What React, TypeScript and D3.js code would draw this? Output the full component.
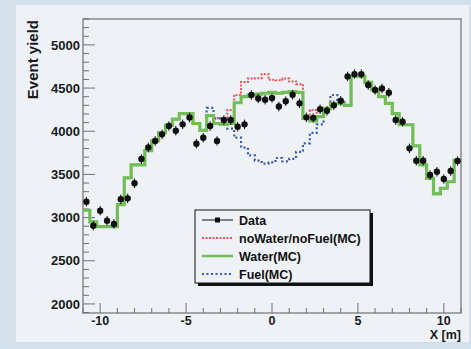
import React, { useEffect, useRef } from 'react';
import * as d3 from 'd3';

// 55 bins of 0.4 m from -11 m to 11 m
const binEdges = d3.range(0, 56).map(i => -11 + i * 0.4);

const dataValues = [
  3184, 2906, 3080, 2964, 2926, 3212, 3223, 3397, 3678, 3813,
  3887, 3964, 4060, 4006, 4080, 4160, 3856, 3924, 4060, 3888,
  4130, 4130, 4052, 4080, 4419, 4380, 4365, 4385, 4286, 4348,
  4423, 4323, 4161, 4155, 4255, 4237, 4300, 4353, 4635, 4662,
  4662, 4535, 4477, 4496, 4446, 4130, 4110, 3802, 3659, 3659,
  3493, 3531, 3447, 3539, 3655,
];
const dataError = 55;

const waterMC = [
  3085, 2950, 2895, 2895, 2895, 3150, 3460, 3610, 3610, 3775,
  3890, 3985, 4070, 4140, 4205, 4205, 4090, 4010, 4180, 4090,
  4080, 4090, 4330, 4400, 4420, 4430, 4440, 4450, 4440, 4450,
  4460, 4450, 4150, 4120, 4170, 4265, 4320, 4320, 4300, 4635,
  4635, 4565, 4480, 4400, 4323, 4205, 4075, 4075, 3830, 3610,
  3455, 3275, 3340, 3415, 3665,
];

const noWaterMC = [
  3085, 2950, 2895, 2895, 2895, 3150, 3460, 3610, 3610, 3775,
  3890, 3985, 4070, 4140, 4205, 4205, 4090, 4010, 4180, 4150,
  4150, 4245, 4420, 4570, 4610, 4615, 4660, 4595, 4590, 4610,
  4575, 4545, 4160, 4245, 4170, 4265, 4320, 4320, 4300, 4635,
  4635, 4565, 4480, 4400, 4323, 4205, 4075, 4075, 3830, 3610,
  3455, 3275, 3340, 3415, 3665,
];

const fuelMC = [
  3085, 2950, 2895, 2895, 2895, 3150, 3460, 3610, 3610, 3775,
  3890, 3985, 4070, 4140, 4205, 4205, 4090, 4010, 4270, 4150,
  4140, 4030, 3925, 3810, 3720, 3660, 3625, 3640, 3690, 3650,
  3680, 3760, 3860, 3980, 4080, 4265, 4420, 4340, 4300, 4635,
  4635, 4565, 4480, 4400, 4323, 4205, 4075, 4075, 3830, 3610,
  3455, 3275, 3340, 3415, 3665,
];

const xTicks = [-10, -5, 0, 5, 10];
const yTicks = [2000, 2500, 3000, 3500, 4000, 4500, 5000];

const legendItems = ['Data', 'noWater/noFuel(MC)', 'Water(MC)', 'Fuel(MC)'];

const W = 471;
const H = 349;
const FONT = '"Liberation Sans", Arial, Helvetica, sans-serif';

export default function App() {
  const ref = useRef<SVGSVGElement>(null);

  useEffect(() => {
    const svg = d3.select(ref.current);
    svg.selectAll('*').remove();

    const left = 83, right = 461, top = 19, bottom = 313;

    // backgrounds
    svg.append('rect').attr('width', W).attr('height', H).attr('fill', '#d4e0e9');
    svg.append('rect').attr('x', 16).attr('y', 5).attr('width', 453).attr('height', 337).attr('fill', '#eef2f6');

    const x = d3.scaleLinear().domain([-11, 11]).range([left, right]);
    const y = d3.scaleLinear().domain([1895, 5300]).range([bottom, top]);

    // frame
    svg.append('rect')
      .attr('x', left).attr('y', top)
      .attr('width', right - left).attr('height', bottom - top)
      .attr('fill', 'none').attr('stroke', '#707070').attr('stroke-width', 1.2);

    // y ticks
    const yMinor = d3.range(1900, 5301, 100);
    svg.append('g').selectAll('line').data(yMinor).join('line')
      .attr('x1', left).attr('x2', d => left + (d % 500 === 0 ? 12 : 6))
      .attr('y1', d => y(d)).attr('y2', d => y(d))
      .attr('stroke', '#707070').attr('stroke-width', 1);

    svg.append('g').selectAll('text').data(yTicks).join('text')
      .attr('x', 80).attr('y', d => y(d)).attr('dy', '0.36em')
      .attr('text-anchor', 'end')
      .attr('font-family', FONT).attr('font-weight', 'bold').attr('font-size', 13)
      .attr('fill', '#1a1a1a').text(d => d);

    // x ticks
    const xMinor = d3.range(-11, 11.01, 1);
    svg.append('g').selectAll('line').data(xMinor).join('line')
      .attr('x1', d => x(d)).attr('x2', d => x(d))
      .attr('y1', bottom).attr('y2', d => bottom - (d % 5 === 0 ? 10 : 5))
      .attr('stroke', '#707070').attr('stroke-width', 1);

    svg.append('g').selectAll('text').data(xTicks).join('text')
      .attr('x', d => x(d)).attr('y', 325)
      .attr('text-anchor', 'middle')
      .attr('font-family', FONT).attr('font-weight', 'bold').attr('font-size', 12.5)
      .attr('fill', '#1a1a1a').text(d => d);

    // axis titles
    svg.append('text')
      .attr('transform', 'translate(38,20) rotate(-90)')
      .attr('text-anchor', 'end')
      .attr('font-family', FONT).attr('font-weight', 'bold').attr('font-size', 15)
      .attr('fill', '#1a1a1a').text('Event yield');

    svg.append('text')
      .attr('x', 461).attr('y', 338.5)
      .attr('text-anchor', 'end')
      .attr('font-family', FONT).attr('font-weight', 'bold').attr('font-size', 12.5)
      .attr('fill', '#1a1a1a').text('X [m]');

    // histograms as steps
    const step = d3.line<[number, number]>()
      .x(d => x(d[0])).y(d => y(d[1]))
      .curve(d3.curveStepAfter);
    const histPoints = (vals: number[]) => {
      const pts: [number, number][] = vals.map((v, i) => [binEdges[i], v]);
      pts.push([binEdges[vals.length], vals[vals.length - 1]]);
      return pts;
    };

    const plot = svg.append('g');
    plot.append('path').attr('d', step(histPoints(noWaterMC)))
      .attr('fill', 'none').attr('stroke', '#e8545a').attr('stroke-width', 2)
      .attr('stroke-dasharray', '2,1.5');
    plot.append('path').attr('d', step(histPoints(fuelMC)))
      .attr('fill', 'none').attr('stroke', '#3a5aae').attr('stroke-width', 2.2)
      .attr('stroke-dasharray', '2,2.5');
    plot.append('path').attr('d', step(histPoints(waterMC)))
      .attr('fill', 'none').attr('stroke', '#72bd55').attr('stroke-width', 3.2);

    // data points
    const centers = dataValues.map((_, i) => (binEdges[i] + binEdges[i + 1]) / 2);
    const pts = plot.append('g').selectAll('g').data(dataValues).join('g');
    pts.append('line')
      .attr('x1', (_, i) => x(centers[i])).attr('x2', (_, i) => x(centers[i]))
      .attr('y1', d => y(d - dataError)).attr('y2', d => y(d + dataError))
      .attr('stroke', '#111').attr('stroke-width', 1);
    pts.append('circle')
      .attr('cx', (_, i) => x(centers[i])).attr('cy', d => y(d))
      .attr('r', 3.2).attr('fill', '#111');

    // legend
    const lx = 195, ly = 210, lw = 175, lh = 73;
    const lg = svg.append('g');
    lg.append('rect').attr('x', lx + 3).attr('y', ly + 3).attr('width', lw).attr('height', lh).attr('fill', '#111');
    lg.append('rect').attr('x', lx).attr('y', ly).attr('width', lw).attr('height', lh)
      .attr('fill', '#eef2f6').attr('stroke', '#111').attr('stroke-width', 1);

    const rowY = (i: number) => ly + 10 + i * 18;
    const sx1 = 202, sx2 = 233;
    lg.append('line').attr('x1', sx1).attr('x2', sx2).attr('y1', rowY(0)).attr('y2', rowY(0))
      .attr('stroke', '#111').attr('stroke-width', 1);
    lg.append('rect').attr('x', (sx1 + sx2) / 2 - 2.5).attr('y', rowY(0) - 2.5).attr('width', 5).attr('height', 5).attr('fill', '#111');
    lg.append('line').attr('x1', sx1).attr('x2', sx2).attr('y1', rowY(1)).attr('y2', rowY(1))
      .attr('stroke', '#e8545a').attr('stroke-width', 2).attr('stroke-dasharray', '2,1.5');
    lg.append('line').attr('x1', sx1).attr('x2', sx2).attr('y1', rowY(2)).attr('y2', rowY(2))
      .attr('stroke', '#72bd55').attr('stroke-width', 2.5);
    lg.append('line').attr('x1', sx1).attr('x2', sx2).attr('y1', rowY(3)).attr('y2', rowY(3))
      .attr('stroke', '#3a5aae').attr('stroke-width', 2).attr('stroke-dasharray', '2,2.5');

    lg.selectAll('text.lab').data(legendItems).join('text')
      .attr('class', 'lab')
      .attr('x', 239).attr('y', (_, i) => rowY(i)).attr('dy', '0.36em')
      .attr('font-family', FONT).attr('font-weight', 'bold').attr('font-size', 12.5)
      .attr('fill', '#111').text(d => d);
  }, []);

  return (
    <svg ref={ref} width={W} height={H}
      style={{ position: 'absolute', left: 0, top: 0, display: 'block' }} />
  );
}
